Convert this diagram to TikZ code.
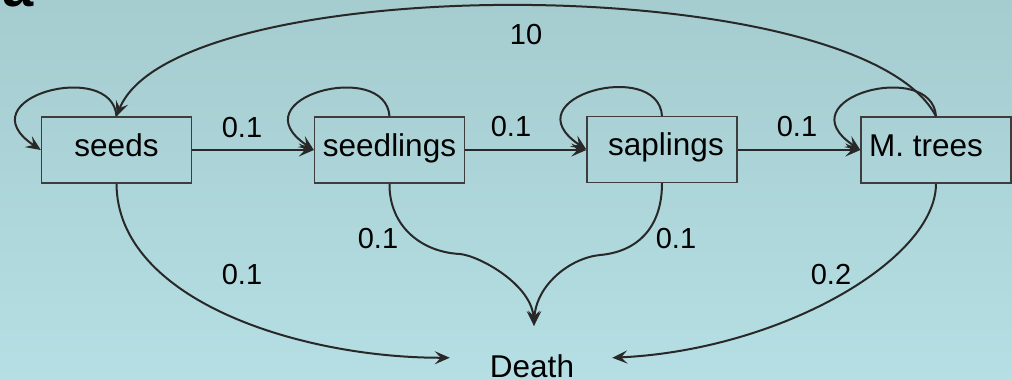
\documentclass[tikz,border=0pt]{standalone}
\usepackage{fontspec}
\setmainfont{Liberation Sans}
\usetikzlibrary{arrows.meta}
\definecolor{bgtop}{RGB}{165,204,207}
\definecolor{bgbot}{RGB}{181,223,228}
\definecolor{ink}{RGB}{40,40,40}
\tikzset{
  stbox/.style={draw=ink!90, line width=1.3pt, minimum width=150pt, minimum height=66pt,
    inner sep=0pt, text height=22pt, text depth=10pt, font=\fontsize{31.5}{36}\selectfont},
  arr/.style={draw=ink, line width=2pt, -{Stealth[length=15pt,width=13pt,inset=6pt]}},
  lbl/.style={font=\fontsize{29}{34}\selectfont, inner sep=0pt},
}
\begin{document}
\begin{tikzpicture}[x=1pt,y=-1pt]
\useasboundingbox (0,0) rectangle (1012,380);
\clip (0,0) rectangle (1012,380);
\shade[top color=bgtop, bottom color=bgbot] (0,0) rectangle (1012,380);
\node[anchor=base east, inner sep=0pt, font=\bfseries\fontsize{56}{60}\selectfont] (frag) at (34,6) {a};

\node[stbox] (seeds) at (116.5,150) {seeds};
\node[stbox] (seedl) at (389.5,150) {seedlings};
\node[stbox] (sapl) at (662,149.5) {\hspace*{8pt}saplings};
\node[stbox] (mt) at (936,150) {\hspace*{-20pt}M. trees};
\node[anchor=base, inner sep=0pt, font=\fontsize{31.5}{36}\selectfont] (death) at (532,377) {Death};

% forward transitions
\draw[arr] (seeds.east) -- (seedl.west);
\draw[arr] (seedl.east) -- (sapl.west |- seedl.east);
\draw[arr] (sapl.east |- mt.west) -- (mt.west);
\node[lbl] (l1) at (242,128) {0.1};
\node[lbl] (l2) at (511,127) {0.1};
\node[lbl] (l3) at (797,127) {0.1};

% self loops
\foreach \b in {seeds,seedl,sapl,mt}{
  \draw[arr] (\b.north) .. controls +(-4,-58) and +(-78,-52) .. (\b.west);
}

% fecundity arc
\draw[arr] (mt.north) .. controls (860,-31) and (175,-31) .. (seeds.north);
\node[lbl] (l10) at (526,35) {10};

% deaths
\draw[arr] (seeds.south) .. controls (117,300) and (300,358) .. ([xshift=-40pt,yshift=8pt]death.west);
\draw[arr] (mt.south) .. controls (936,260) and (780,350) .. ([xshift=38pt,yshift=8pt]death.east);
\draw[arr] (seedl.south) .. controls (389,225) and (420,252) .. (460,254)
  .. controls (480,256) and (532,285) .. ([xshift=2pt,yshift=28pt]death.north);
\draw[arr] (sapl.south) .. controls (662,230) and (635,252) .. (600,255)
  .. controls (570,258) and (536,285) .. ([xshift=2pt,yshift=28pt]death.north);
\node[lbl] (d1) at (242,275) {0.1};
\node[lbl] (d2) at (378,239) {0.1};
\node[lbl] (d3) at (676,239) {0.1};
\node[lbl] (d4) at (831,275) {0.2};
\end{tikzpicture}
\end{document}
